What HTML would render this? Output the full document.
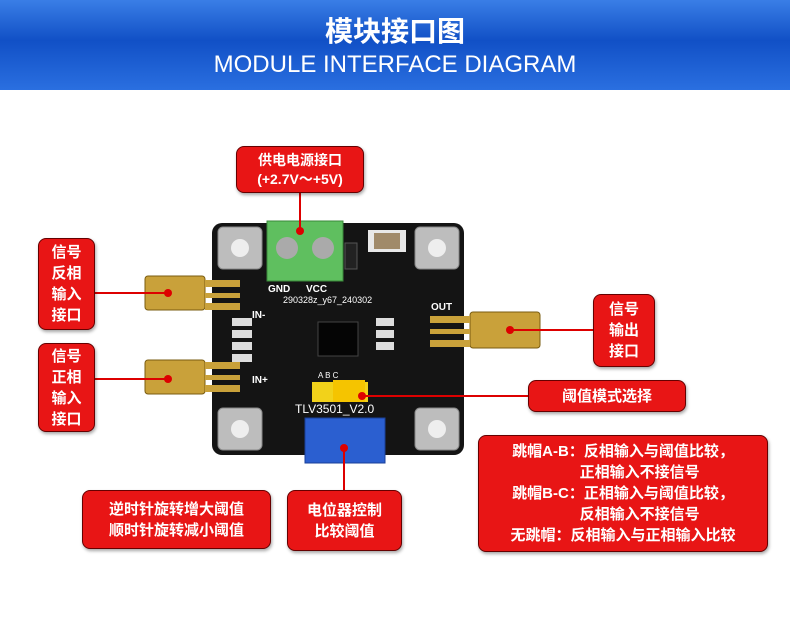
<!DOCTYPE html>
<html><head><meta charset="utf-8"><style>
*{margin:0;padding:0;box-sizing:border-box}
body{width:790px;height:621px;background:#fff;position:relative;overflow:hidden;font-family:"Liberation Sans","Noto Sans CJK SC",sans-serif}
.hdr{position:absolute;left:0;top:0;width:790px;height:90px;background:linear-gradient(#3a7ee6,#1150c6 45%,#2a6fe0);color:#fff;text-align:center}
.t1{position:absolute;top:10px;width:100%;font-size:28px;font-weight:bold;font-family:"Noto Sans CJK SC",sans-serif}
.t2{position:absolute;top:51px;width:100%;font-size:24px}
.b{position:absolute;background:#e81515;color:#fff;border:1px solid #600;border-radius:8px;box-shadow:1px 2px 3px rgba(0,0,0,.35);font-family:"Liberation Sans","Noto Sans CJK SC",sans-serif;font-weight:bold;font-size:15px;line-height:21px;text-align:center;display:flex;flex-direction:column;justify-content:center}
svg{position:absolute;left:0;top:0}
</style></head><body>
<div class="hdr"><div class="t1">模块接口图</div><div class="t2">MODULE INTERFACE DIAGRAM</div></div>
<svg width="790" height="621">
<g fill="#c9a13a" stroke="#7a5c10" stroke-width="1">
<rect x="145" y="276" width="60" height="34" rx="3"/>
<rect x="145" y="360" width="60" height="34" rx="3"/>
<rect x="470" y="312" width="70" height="36" rx="3"/>
</g>
<rect x="212" y="223" width="252" height="232" rx="10" fill="#141414"/>
<g fill="#bdbdbd" stroke="#888"><rect x="218" y="227" width="44" height="42" rx="5"/><rect x="415" y="227" width="44" height="42" rx="5"/><rect x="218" y="408" width="44" height="42" rx="5"/><rect x="415" y="408" width="44" height="42" rx="5"/></g>
<g fill="#eee"><circle cx="240" cy="248" r="9"/><circle cx="437" cy="248" r="9"/><circle cx="240" cy="429" r="9"/><circle cx="437" cy="429" r="9"/></g>
<rect x="267" y="221" width="76" height="60" fill="#5fbf5f" stroke="#3a8a3a"/>
<circle cx="287" cy="248" r="11" fill="#aaa"/><circle cx="323" cy="248" r="11" fill="#aaa"/>
<rect x="345" y="243" width="12" height="26" fill="#222" stroke="#555"/>
<rect x="368" y="230" width="38" height="22" fill="#fff" opacity=".9"/><rect x="374" y="233" width="26" height="16" fill="#a08a6a"/>
<g fill="#c9a13a"><rect x="205" y="280" width="35" height="7"/><rect x="205" y="293" width="35" height="5"/><rect x="205" y="303" width="35" height="7"/>
<rect x="205" y="362" width="35" height="7"/><rect x="205" y="375" width="35" height="5"/><rect x="205" y="385" width="35" height="7"/>
<rect x="430" y="316" width="40" height="7"/><rect x="430" y="329" width="40" height="5"/><rect x="430" y="340" width="40" height="7"/></g>
<rect x="318" y="322" width="40" height="34" fill="#050505" stroke="#444"/>
<g fill="#ddd"><rect x="232" y="318" width="20" height="8"/><rect x="232" y="330" width="20" height="8"/><rect x="232" y="342" width="20" height="8"/><rect x="232" y="354" width="20" height="8"/>
<rect x="376" y="318" width="18" height="8"/><rect x="376" y="330" width="18" height="8"/><rect x="376" y="342" width="18" height="8"/></g>
<rect x="312" y="382" width="56" height="20" fill="#f2d21a"/>
<rect x="333" y="380" width="32" height="22" fill="#f5c400"/>
<rect x="305" y="418" width="80" height="45" fill="#2b5fd0" stroke="#1a3f99"/>
<g fill="#fff" font-size="10" font-weight="bold" font-family="Liberation Sans">
<text x="268" y="292">GND</text><text x="306" y="292">VCC</text><text x="431" y="310">OUT</text>
<text x="252" y="318">IN-</text><text x="252" y="383">IN+</text>
<text x="295" y="413" font-size="12" font-weight="normal">TLV3501_V2.0</text>
<text x="283" y="303" font-size="9" font-weight="normal">290328z_y67_240302</text>
<text x="318" y="378" font-size="8" font-weight="normal">A    B    C</text>
</g>
<g stroke="#d00" stroke-width="2" fill="none">
<line x1="300" y1="193" x2="300" y2="231"/><line x1="95" y1="293" x2="168" y2="293"/><line x1="95" y1="379" x2="168" y2="379"/>
<line x1="510" y1="330" x2="593" y2="330"/><line x1="362" y1="396" x2="528" y2="396"/><line x1="344" y1="448" x2="344" y2="490"/></g>
<g fill="#d00"><circle cx="300" cy="231" r="4"/><circle cx="168" cy="293" r="4"/><circle cx="168" cy="379" r="4"/><circle cx="510" cy="330" r="4"/><circle cx="362" cy="396" r="4"/><circle cx="344" cy="448" r="4"/></g>
</svg>
<div class="b" style="left:236px;top:146px;width:128px;height:47px;font-size:14px;line-height:19px">供电电源接口<br>(+2.7V～+5V)</div>
<div class="b" style="left:38px;top:238px;width:57px;height:92px">信号<br>反相<br>输入<br>接口</div>
<div class="b" style="left:38px;top:343px;width:57px;height:89px">信号<br>正相<br>输入<br>接口</div>
<div class="b" style="left:593px;top:294px;width:62px;height:73px">信号<br>输出<br>接口</div>
<div class="b" style="left:528px;top:380px;width:158px;height:32px">阈值模式选择</div>
<div class="b" style="left:478px;top:435px;width:290px;height:117px;font-size:15px;line-height:21px">跳帽A-B：反相输入与阈值比较，<br>&nbsp;&nbsp;&nbsp;&nbsp;&nbsp;&nbsp;&nbsp;&nbsp;正相输入不接信号<br>跳帽B-C：正相输入与阈值比较，<br>&nbsp;&nbsp;&nbsp;&nbsp;&nbsp;&nbsp;&nbsp;&nbsp;反相输入不接信号<br>无跳帽：反相输入与正相输入比较</div>
<div class="b" style="left:82px;top:490px;width:189px;height:59px">逆时针旋转增大阈值<br>顺时针旋转减小阈值</div>
<div class="b" style="left:287px;top:490px;width:115px;height:61px">电位器控制<br>比较阈值</div>
</body></html>
